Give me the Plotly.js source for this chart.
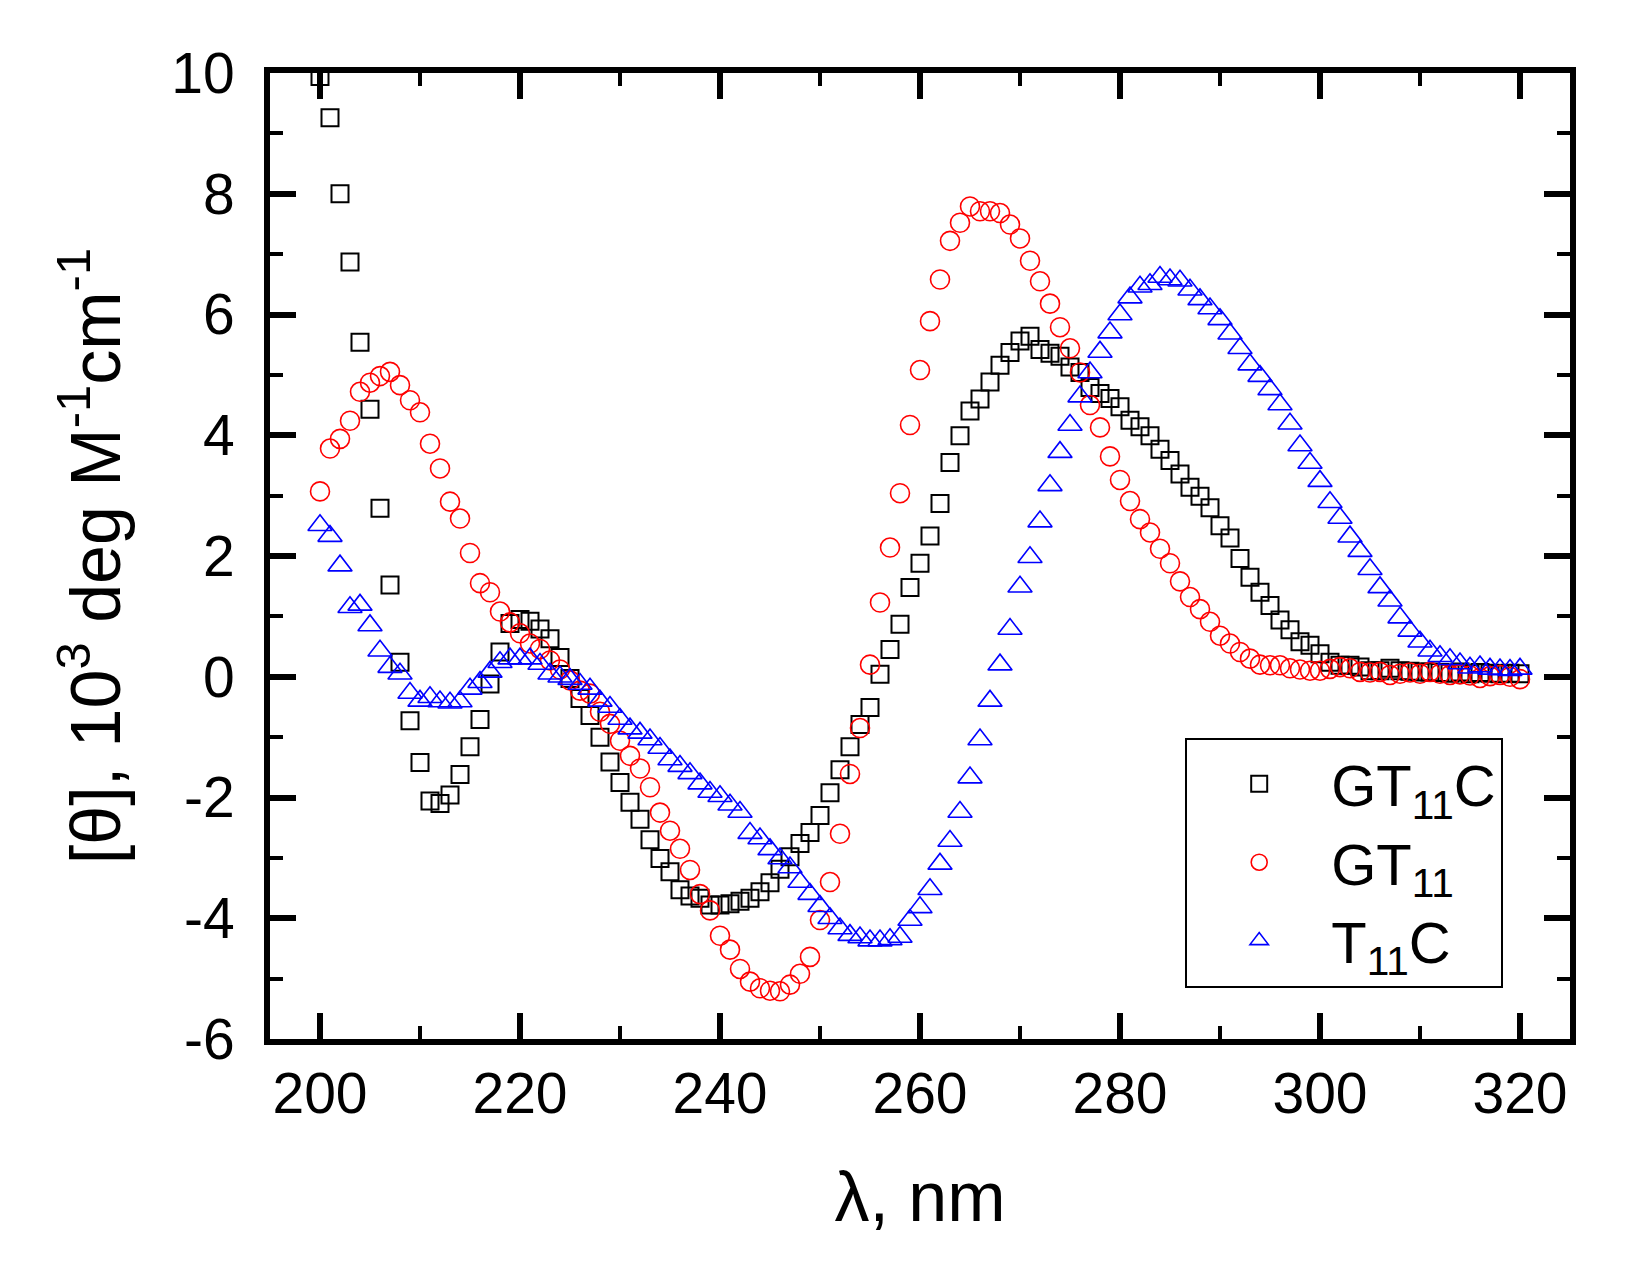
<!DOCTYPE html>
<html>
<head>
<meta charset="utf-8">
<script src="https://cdn.plot.ly/plotly-3.0.1.min.js"></script>
<style>
  body { margin: 0; background: #fff; }
  #cd-chart { width: 1633px; height: 1269px; }
</style>
</head>
<body>
<div id="cd-chart"></div>
<script>
// wavelength, nm (1 nm steps)
var wavelength = [];
for (var w = 200; w <= 320; w++) wavelength.push(w);

// [theta], 10^3 deg M-1 cm-1
var gt11c = [
  9.94, 9.26, 8.00, 6.87, 5.54, 4.43, 2.79, 1.52, 0.24, -0.73,
  -1.42, -2.06, -2.10, -1.96, -1.62, -1.16, -0.71, -0.12, 0.41, 0.88,
  0.95, 0.92, 0.79, 0.63, 0.32, -0.03, -0.36, -0.64, -1.00, -1.41,
  -1.75, -2.08, -2.36, -2.70, -3.01, -3.23, -3.53, -3.63, -3.67, -3.78,
  -3.78, -3.76, -3.72, -3.67, -3.56, -3.41, -3.19, -2.98, -2.76, -2.58,
  -2.30, -1.92, -1.54, -1.16, -0.79, -0.51, 0.04, 0.45, 0.87, 1.48,
  1.88, 2.33, 2.87, 3.55, 3.99, 4.40, 4.60, 4.88, 5.16, 5.37,
  5.56, 5.64, 5.42, 5.36, 5.31, 5.13, 5.04, 4.79, 4.69, 4.61,
  4.47, 4.25, 4.14, 3.99, 3.77, 3.58, 3.36, 3.14, 2.99, 2.80,
  2.50, 2.30, 1.96, 1.65, 1.40, 1.18, 0.94, 0.78, 0.58, 0.52,
  0.38, 0.24, 0.19, 0.19, 0.16, 0.10, 0.10, 0.14, 0.10, 0.09,
  0.08, 0.08, 0.07, 0.06, 0.08, 0.05, 0.07, 0.06, 0.05, 0.06,
  0.05
];

var gt11 = [
  3.07, 3.78, 3.94, 4.24, 4.72, 4.87, 4.98, 5.05, 4.83, 4.58,
  4.38, 3.86, 3.45, 2.90, 2.62, 2.05, 1.55, 1.40, 1.08, 0.90,
  0.72, 0.55, 0.46, 0.27, 0.12, -0.06, -0.23, -0.28, -0.58, -0.78,
  -1.06, -1.31, -1.52, -1.83, -2.25, -2.55, -2.85, -3.20, -3.60, -3.87,
  -4.29, -4.52, -4.84, -5.05, -5.16, -5.20, -5.21, -5.10, -4.92, -4.64,
  -4.03, -3.40, -2.60, -1.61, -0.85, 0.20, 1.23, 2.14, 3.04, 4.17,
  5.08, 5.89, 6.58, 7.22, 7.52, 7.79, 7.71, 7.71, 7.68, 7.49,
  7.26, 6.89, 6.55, 6.18, 5.79, 5.44, 5.04, 4.50, 4.13, 3.65,
  3.26, 2.91, 2.61, 2.39, 2.12, 1.88, 1.58, 1.32, 1.12, 0.91,
  0.68, 0.55, 0.41, 0.30, 0.20, 0.19, 0.19, 0.14, 0.12, 0.10,
  0.10, 0.13, 0.16, 0.14, 0.08, 0.07, 0.08, 0.03, 0.05, 0.07,
  0.05, 0.08, 0.05, 0.03, 0.04, 0.02, -0.02, 0.01, 0.03, 0.00,
  -0.04
];

var t11c = [
  2.51, 2.33, 1.84, 1.15, 1.19, 0.85, 0.43, 0.16, 0.05, -0.27,
  -0.40, -0.34, -0.41, -0.43, -0.41, -0.20, -0.09, 0.08, 0.24, 0.30,
  0.30, 0.30, 0.21, 0.05, 0.00, -0.04, -0.12, -0.20, -0.40, -0.50,
  -0.70, -0.86, -0.93, -1.04, -1.18, -1.37, -1.48, -1.60, -1.77, -1.91,
  -1.98, -2.12, -2.24, -2.59, -2.68, -2.86, -3.01, -3.16, -3.40, -3.60,
  -3.80, -4.00, -4.17, -4.28, -4.32, -4.37, -4.37, -4.35, -4.31, -4.03,
  -3.82, -3.52, -3.10, -2.72, -2.24, -1.67, -1.04, -0.40, 0.20, 0.79,
  1.49, 1.98, 2.57, 3.17, 3.72, 4.17, 4.64, 5.04, 5.38, 5.70,
  6.00, 6.28, 6.46, 6.50, 6.62, 6.58, 6.56, 6.41, 6.25, 6.10,
  5.92, 5.68, 5.44, 5.17, 4.98, 4.76, 4.51, 4.19, 3.83, 3.54,
  3.24, 2.89, 2.63, 2.32, 2.08, 1.78, 1.48, 1.26, 0.98, 0.76,
  0.58, 0.43, 0.34, 0.29, 0.22, 0.15, 0.17, 0.13, 0.12, 0.11,
  0.13
];

var yTickVals = [-6, -4, -2, 0, 2, 4, 6, 8, 10];
var yTickText = ['-6', '-4', '-2', '0', '2', '4', '6', '8', '10'];
var xTickVals = [200, 220, 240, 260, 280, 300, 320];

var FONT = 'Arial, "Liberation Sans", sans-serif';

var trace1 = {
  x: wavelength,
  y: gt11c,
  name: 'GT<sub>11</sub>C',
  type: 'scatter',
  mode: 'markers',
  marker: {
    symbol: 'square-open',
    size: 17,
    color: '#000000',
    line: { width: 2 }
  }
};

var trace2 = {
  x: wavelength,
  y: gt11,
  name: 'GT<sub>11</sub>',
  type: 'scatter',
  mode: 'markers',
  marker: {
    symbol: 'circle-open',
    size: 19,
    color: '#ff0000',
    line: { width: 1.6 }
  }
};

var trace3 = {
  x: wavelength,
  y: t11c,
  name: 'T<sub>11</sub>C',
  type: 'scatter',
  mode: 'markers',
  marker: {
    symbol: 'triangle-up-open',
    size: 21,
    color: '#0000ff',
    line: { width: 1.6 }
  }
};

var data = [trace1, trace2, trace3];

var layout = {
  width: 1633,
  height: 1269,
  margin: { l: 270, r: 63, t: 73, b: 230 },
  paper_bgcolor: '#ffffff',
  plot_bgcolor: '#ffffff',
  font: { family: FONT, color: '#000000' },
  showlegend: true,
  legend: {
    x: 0.704,
    y: 0.312,
    xanchor: 'left',
    yanchor: 'top',
    bgcolor: '#ffffff',
    bordercolor: '#000000',
    borderwidth: 2,
    itemwidth: 134,
    tracegroupgap: 0,
    font: { family: FONT, size: 58, color: '#000000' }
  },
  xaxis: {
    range: [195, 325],
    tickvals: xTickVals,
    ticks: 'inside',
    ticklen: 26,
    tickwidth: 6,
    tickcolor: '#000000',
    showline: true,
    linewidth: 6,
    linecolor: '#000000',
    mirror: 'allticks',
    showgrid: false,
    zeroline: false,
    ticklabelstandoff: 0,
    tickfont: { family: FONT, size: 57, color: '#000000' },
    minor: { dtick: 10, ticks: 'inside', ticklen: 13, tickwidth: 4, tickcolor: '#000000', showgrid: false },
    title: { text: 'λ, nm', standoff: 50, font: { family: FONT, size: 70, color: '#000000' } }
  },
  yaxis: {
    range: [-6, 10],
    tickvals: yTickVals,
    ticktext: yTickText,
    ticks: 'inside',
    ticklen: 26,
    tickwidth: 6,
    tickcolor: '#000000',
    showline: true,
    linewidth: 6,
    linecolor: '#000000',
    mirror: 'allticks',
    showgrid: false,
    zeroline: false,
    ticklabelstandoff: 18,
    tickfont: { family: FONT, size: 57, color: '#000000' },
    minor: { dtick: 1, ticks: 'inside', ticklen: 13, tickwidth: 4, tickcolor: '#000000', showgrid: false },
    title: { text: '[θ], 10<sup>3</sup> deg M<sup>-1</sup>cm<sup>-1</sup>', standoff: 30, font: { family: FONT, size: 70, color: '#000000' } }
  }
};

Plotly.newPlot('cd-chart', data, layout, { displayModeBar: false, staticPlot: true });
</script>
</body>
</html>
